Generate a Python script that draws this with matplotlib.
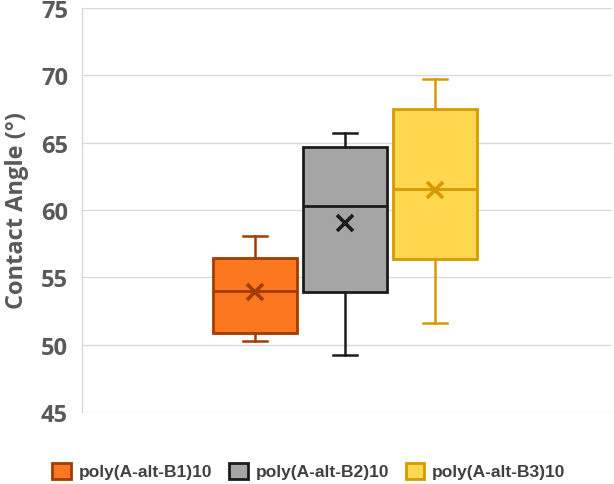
import matplotlib
matplotlib.use('Agg')
import matplotlib.pyplot as plt
from matplotlib.patches import Patch

# values (contact angle, degrees)
labels = ['poly(A-alt-B1)10', 'poly(A-alt-B2)10', 'poly(A-alt-B3)10']
whis_lo = [50.3, 49.2, 51.6]
q1 = [50.9, 53.9, 56.35]
median = [54.0, 60.3, 61.55]
q3 = [56.4, 64.7, 67.5]
whis_hi = [58.1, 65.7, 69.7]
mean = [53.9, 59.0, 61.5]

face_colors = ['#FB7821', '#A5A5A5', '#FFD84F']
edge_colors = ['#A33C00', '#1C1C1C', '#D69A00']

stats = []
for i in range(len(labels)):
    stats.append({'label': labels[i], 'whislo': whis_lo[i], 'q1': q1[i], 'med': median[i],
                  'q3': q3[i], 'whishi': whis_hi[i], 'mean': mean[i], 'fliers': []})

fig = plt.figure(figsize=(6.14, 4.85), dpi=100)
ax = fig.add_axes([82/614, 72/485, 530/614, 404/485])

positions = [1, 2, 3]
for i in range(len(stats)):
    ec = edge_colors[i]
    ax.bxp([stats[i]], positions=[positions[i]], widths=0.93, patch_artist=True,
           showmeans=True, showfliers=False,
           boxprops=dict(facecolor=face_colors[i], edgecolor=ec, linewidth=2.0),
           medianprops=dict(color=ec, linewidth=2.0),
           whiskerprops=dict(color=ec, linewidth=1.8),
           capprops=dict(color=ec, linewidth=1.8),
           capwidths=0.27,
           meanprops=dict(marker='x', markeredgecolor=ec, markersize=11, markeredgewidth=2.6),
           zorder=3)

ax.set_xlim(-0.922, 4.967)
ax.set_ylim(45, 75)
ax.set_yticks([45, 50, 55, 60, 65, 70, 75])
ax.set_xticks([])
ax.grid(axis='y', color='#D9D9D9', linewidth=1.0, zorder=0)
ax.set_axisbelow(True)
for s in ['top', 'right', 'bottom']:
    ax.spines[s].set_visible(False)
ax.spines['left'].set_color('#D9D9D9')
ax.spines['left'].set_linewidth(1.0)
ax.tick_params(axis='y', length=0, pad=10, labelsize=17, labelcolor='#595959')
for t in ax.get_yticklabels():
    t.set_fontfamily('Open Sans')
    t.set_fontweight('bold')
ax.set_ylabel('Contact Angle (°)', fontsize=17, fontweight='bold', color='#595959',
              fontfamily='Open Sans', labelpad=9)

handles = [Patch(facecolor=face_colors[i], edgecolor=edge_colors[i], linewidth=2.0, label=labels[i])
           for i in range(len(labels))]
fig.legend(handles=handles, loc='center', bbox_to_anchor=(309/614, 13/485), ncol=3,
           frameon=False, handlelength=1.05, handleheight=1.05, handletextpad=0.45,
           columnspacing=1.0, prop={'family': 'Liberation Sans', 'weight': 'bold', 'size': 12.5},
           labelcolor='#404040')

fig.savefig('out.png', dpi=100)
